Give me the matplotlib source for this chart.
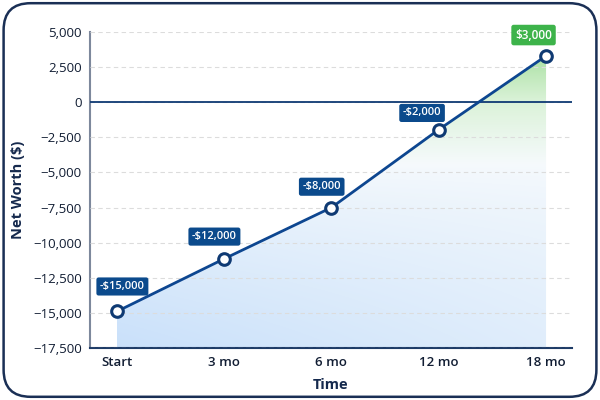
import numpy as np
import matplotlib.pyplot as plt
from matplotlib.patches import FancyBboxPatch, Polygon
from matplotlib.ticker import FuncFormatter

plt.rcParams['font.family'] = ['Open Sans', 'DejaVu Sans']

# data
periods = ['Start', '3 mo', '6 mo', '12 mo', '18 mo']
net_worth = [-14900, -11150, -7500, -1950, 3300]
point_labels = ['-$15,000', '-$12,000', '-$8,000', '-$2,000', '$3,000']
label_offsets = [(4, 18), (-7, 16), (-7, 15), (-12, 12), (-9, 15)]  # points

navy = '#0f3a73'
line_blue = '#0d4690'
box_blue = '#0b4a8c'
box_green = '#3db34a'

fig = plt.figure(figsize=(6, 4), dpi=100)
# rounded frame round the whole card
frame = FancyBboxPatch((0.006, 0.008), 0.988, 0.984,
                       boxstyle='round,pad=0,rounding_size=0.045',
                       transform=fig.transFigure, fc='white', ec='#1a2f55',
                       lw=1.8, mutation_aspect=1.5, zorder=-5)
fig.patches.append(frame)

ax = fig.add_axes([0.15, 0.13, 0.803, 0.79])
ax.set_facecolor('none')
ax.set_zorder(1)

x = np.arange(len(periods))
ymin, ymax = -17500, 5000
ax.set_xlim(-0.25, 4.24)
ax.set_ylim(ymin, ymax)

# gradient fill: light blue at the bottom (stronger on the left),
# white around -5,000, green towards the top
nx, ny = 300, 300
gx, gy = np.meshgrid(np.linspace(0, 1, nx), np.linspace(0, 1, ny))
blue = np.array([0.79, 0.88, 0.98])
white = np.array([0.965, 0.98, 0.99])
lgreen = np.array([0.86, 0.95, 0.85])
green = np.array([0.63, 0.87, 0.60])
img = np.zeros((ny, nx, 3))
t0, t1, t2 = 0.58, 0.78, 0.96
m = gy < t0
w = ((1 - gy[m] / t0) ** 0.7 * (1 - 0.5 * gx[m]))[:, None]
img[m] = white + (blue - white) * w
m = (gy >= t0) & (gy < t1)
w = ((gy[m] - t0) / (t1 - t0))[:, None]
img[m] = white + (lgreen - white) * w
m = gy >= t1
w = np.clip((gy[m] - t1) / (t2 - t1), 0, 1)[:, None]
img[m] = lgreen + (green - lgreen) * w
im = ax.imshow(img, extent=(x[0], x[-1], ymin, ymax), origin='lower',
               aspect='auto', zorder=1)
verts = [(x[0], ymin)] + list(zip(x, net_worth)) + [(x[-1], ymin)]
clip = Polygon(verts, closed=True, transform=ax.transData)
im.set_clip_path(clip)

# grid and zero line
ax.set_axisbelow(False)
ax.set_yticks(np.arange(ymin, ymax + 1, 2500))
ax.yaxis.grid(True, ls=(0, (4, 3)), color='#dcdcdc', lw=0.8)
ax.axhline(0, color=navy, lw=1.3, zorder=2.7)

ax.plot(x, net_worth, color=line_blue, lw=2, zorder=3)
ax.scatter(x, net_worth, s=70, facecolor='white', edgecolor=navy,
           linewidth=2.2, zorder=4)

for xi, yi, lab, off in zip(x, net_worth, point_labels, label_offsets):
    fc = box_green if yi > 0 else box_blue
    ax.annotate(lab, (xi, yi), xytext=off, textcoords='offset points',
                ha='center', va='center', fontsize=8 if yi < 0 else 8.5,
                color='white', fontweight='semibold', zorder=5,
                bbox=dict(boxstyle='round,pad=0.32,rounding_size=0.2',
                          fc=fc, ec='none'))

ax.set_xticks(x)
ax.set_xticklabels(periods)
ax.yaxis.set_major_formatter(FuncFormatter(
    lambda v, p: ('\u2212' if v < 0 else '') + f'{abs(v):,.0f}'))
ax.tick_params(length=0, labelsize=9.5, colors='#111d33', pad=6)
for lab in ax.get_xticklabels():
    lab.set_fontweight('semibold')

for side in ['top', 'right']:
    ax.spines[side].set_visible(False)
ax.spines['left'].set_color('#7d889c')
ax.spines['left'].set_linewidth(1.5)
ax.spines['bottom'].set_color('#1d3b66')
ax.spines['bottom'].set_linewidth(1.5)

ax.set_xlabel('Time', fontsize=10.5, fontweight='bold', color='#15294d',
              labelpad=6)
ax.set_ylabel('Net Worth ($)', fontsize=10.5, fontweight='bold',
              color='#15294d', labelpad=6)

fig.savefig('out.png', dpi=100)
